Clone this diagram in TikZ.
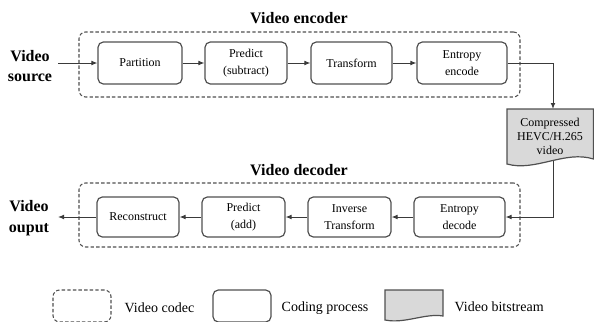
\documentclass[tikz,border=0pt]{standalone}
\usepackage{fontspec}
\setmainfont{Liberation Serif}
\usetikzlibrary{arrows.meta}
\definecolor{edgec}{HTML}{505050}
\definecolor{linec}{HTML}{3A3A3A}
\definecolor{bsfill}{HTML}{D9D9D9}
\begin{document}
\begin{tikzpicture}[x=0.75pt,y=-0.75pt,
  proc/.style={draw=edgec, line width=0.9pt, rounded corners=4pt, align=center,
    font=\fontsize{9}{12.5}\selectfont, inner sep=1pt},
  codec/.style={draw=edgec, line width=0.8pt, rounded corners=5pt,
    dash pattern=on 2.6pt off 1.6pt},
  conn/.style={draw=linec, line width=0.75pt, -{Latex[length=4.5pt,width=3.6pt]}},
  title/.style={font=\fontsize{12}{14}\selectfont\bfseries},
  side/.style={font=\fontsize{12}{15.5}\selectfont\bfseries, align=center},
  legtext/.style={font=\fontsize{10.5}{12}\selectfont, anchor=west}
]
\useasboundingbox (0,0) rectangle (594,322);

% titles
\node[title] (enct) at (299,18) {Video encoder};
\node[title] (dect) at (299,170) {Video decoder};

% codec boxes
\node[codec, minimum width=330.75pt, minimum height=48.75pt] (enc) at (299.5,64.5) {};
\node[codec, minimum width=330.75pt, minimum height=48pt] (dec) at (299.5,215) {};

% encoder processes
\node[proc, minimum width=63pt, minimum height=31.5pt] (part) at (140,63) {Partition};
\node[proc, minimum width=61.5pt, minimum height=31.5pt] (pred) at (246,63) {Predict\\(subtract)};
\node[proc, minimum width=60.75pt, minimum height=31.5pt] (tran) at (351.5,63) {Transform};
\node[proc, minimum width=67.5pt, minimum height=31.5pt] (ente) at (462,63) {Entropy\\encode};

% decoder processes
\node[proc, minimum width=61.5pt, minimum height=30pt] (reco) at (138,217) {Reconstruct};
\node[proc, minimum width=62.25pt, minimum height=30pt] (pada) at (243.5,217) {Predict\\(add)};
\node[proc, minimum width=62.25pt, minimum height=30pt] (itra) at (349.5,217) {Inverse\\Transform};
\node[proc, minimum width=68.25pt, minimum height=30pt] (entd) at (459.5,217) {Entropy\\decode};

% side labels
\node[side] (src) at (30,66) {Video\\source};
\node[side] (out) at (29,218) {Video\\ouput};
\coordinate (srcend) at (58,63);
\coordinate (outend) at (58,217);

% bitstream
\draw[draw=edgec, line width=0.9pt, fill=bsfill]
  (507,109) -- (593.5,109) -- (593.5,159)
  .. controls (565,150) and (535,172) .. (507,164) -- cycle;
\node[align=center, font=\fontsize{9}{10.5}\selectfont] (bs) at (550,136) {Compressed\\HEVC/H.265\\video};
\coordinate (bstop) at (553,109);
\coordinate (bsbot) at (553,160.5);

% connectors
\draw[conn] (srcend) -- (part);
\draw[conn] (part) -- (pred);
\draw[conn] (pred) -- (tran);
\draw[conn] (tran) -- (ente);
\draw[conn] (ente.east) -| (bstop);
\draw[conn] (bsbot) |- (entd.east);
\draw[conn] (entd) -- (itra);
\draw[conn] (itra) -- (pada);
\draw[conn] (pada) -- (reco);
\draw[conn] (reco) -- (outend);

% legend
\node[codec, minimum width=43.5pt, minimum height=24pt] (lcodec) at (82,306) {};
\node[legtext] (lcodect) at (120,308) {Video codec};
\node[draw=edgec, line width=0.9pt, rounded corners=4pt, minimum width=43.5pt, minimum height=24pt] (lproc) at (242,306) {};
\node[legtext] (lproct) at (277,308) {Coding process};
\draw[draw=edgec, line width=0.9pt, fill=bsfill]
  (385,290) -- (443,290) -- (443,316)
  .. controls (425,313) and (405,324) .. (385,320) -- cycle;
\coordinate (lbs) at (414,305);
\node[legtext] (lbst) at (450,307) {Video bitstream};
\end{tikzpicture}
\end{document}
